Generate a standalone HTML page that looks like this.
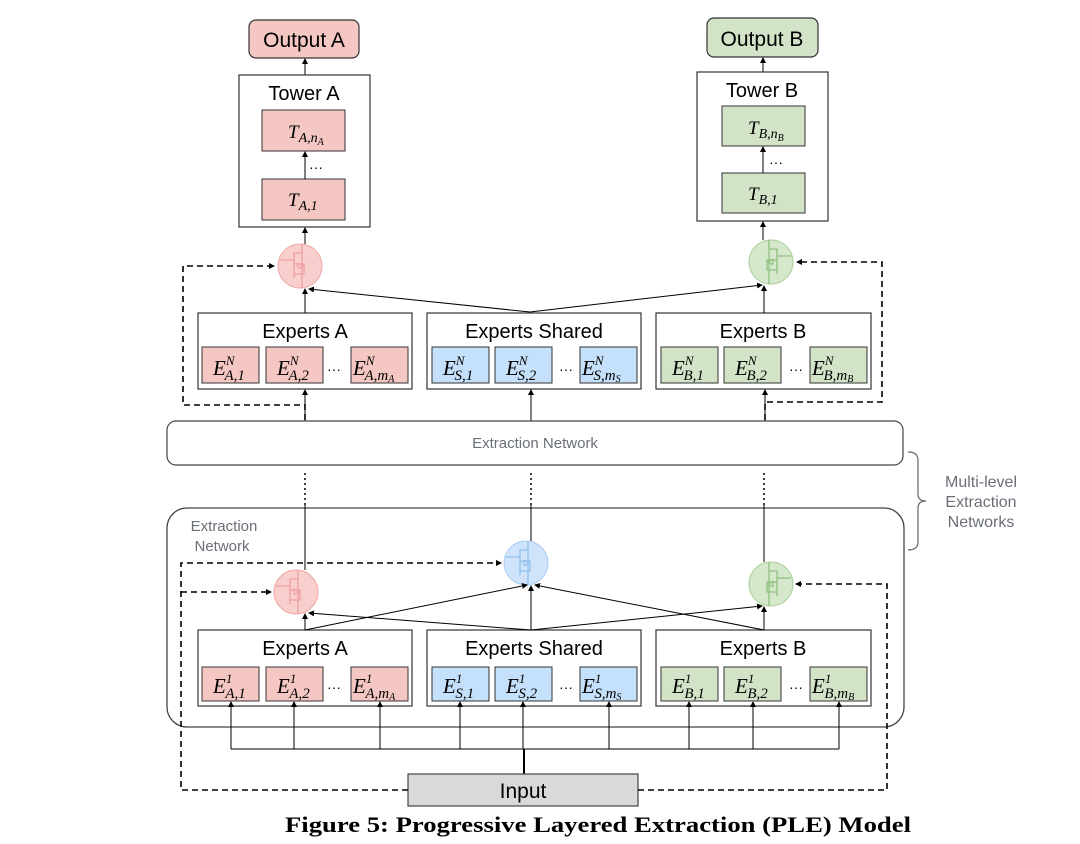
<!DOCTYPE html>
<html><head><meta charset="utf-8"><style>
html,body{margin:0;padding:0;background:#fff;}
svg{display:block;}
.s{font-family:"Liberation Sans",sans-serif;}
.m{font-family:"Liberation Serif",serif;font-style:italic;}
</style></head><body>
<svg width="1080" height="844" viewBox="0 0 1080 844" xmlns="http://www.w3.org/2000/svg">
<defs>
<marker id="ar" markerWidth="6" markerHeight="6" refX="5" refY="3" orient="auto" markerUnits="userSpaceOnUse"><path d="M0,0 L6,3 L0,6 z" fill="#000"/></marker>
<g id="gi" fill="none" stroke-width="1.3">
<path d="M2,-22 V-13 H-6 V12 M2,-13 V22 M-20,-6 H-6 M-6,-2 H4 V8 H-6 M-2,-2 L-2,2 M-2,-3 L3,0 L-2,3"/>
</g>
</defs>
<rect x="249" y="20" width="110" height="38" rx="7" fill="#f4c7c3" stroke="#333" stroke-width="1.2"/>
<text x="304" y="47" class="s" font-size="21" text-anchor="middle">Output A</text>
<rect x="707" y="18" width="111" height="39" rx="7" fill="#d3e3c8" stroke="#333" stroke-width="1.2"/>
<text x="762" y="46" class="s" font-size="21" text-anchor="middle">Output B</text>
<g stroke="#000" stroke-width="1" marker-end="url(#ar)">
<line x1="305" y1="75" x2="305" y2="59"/>
<line x1="763" y1="72" x2="763" y2="58"/>
</g>
<rect x="239" y="75" width="131" height="152" fill="#fff" stroke="#333" stroke-width="1.2"/>
<text x="304" y="100" class="s" font-size="20" text-anchor="middle">Tower A</text>
<rect x="262" y="110" width="83" height="41" fill="#f4c7c3" stroke="#333"/>
<rect x="262" y="179" width="83" height="41" fill="#f4c7c3" stroke="#333"/>
<text x="288" y="138" class="m" font-size="19">T<tspan font-size="14" dy="4">A,n</tspan><tspan font-size="10" dy="3">A</tspan></text>
<text x="288" y="206" class="m" font-size="19">T<tspan font-size="14" dy="4">A,1</tspan></text>
<text x="316" y="172" class="s" font-size="14" text-anchor="middle">···</text>
<rect x="697" y="72" width="131" height="149" fill="#fff" stroke="#333" stroke-width="1.2"/>
<text x="762" y="97" class="s" font-size="20" text-anchor="middle">Tower B</text>
<rect x="722" y="106" width="83" height="40" fill="#d3e3c8" stroke="#333"/>
<rect x="722" y="173" width="83" height="40" fill="#d3e3c8" stroke="#333"/>
<text x="748" y="134" class="m" font-size="19">T<tspan font-size="14" dy="4">B,n</tspan><tspan font-size="10" dy="3">B</tspan></text>
<text x="748" y="200" class="m" font-size="19">T<tspan font-size="14" dy="4">B,1</tspan></text>
<text x="776" y="167" class="s" font-size="14" text-anchor="middle">···</text>
<g stroke="#000" stroke-width="1" marker-end="url(#ar)">
<line x1="305" y1="179" x2="305" y2="152"/>
<line x1="763" y1="173" x2="763" y2="147"/>
<line x1="305" y1="244" x2="305" y2="228"/>
<line x1="763" y1="240" x2="763" y2="222"/>
</g>
<circle cx="300" cy="266" r="22" fill="#f8cfcd" stroke="#f0a8a5"/>
<use href="#gi" x="300" y="266" stroke="#f0a0a0"/>
<circle cx="771" cy="262" r="22" fill="#d5e8cc" stroke="#a8cf98"/>
<use href="#gi" x="771" y="262" stroke="#90c080" transform="translate(1542,0) scale(-1,1)"/>
<g stroke="#333" stroke-width="1.2" fill="#fff">
<rect x="198" y="313" width="214" height="76"/>
<rect x="427" y="313" width="214" height="76"/>
<rect x="656" y="313" width="215" height="76"/>
<rect x="198" y="630" width="214" height="76"/>
<rect x="427" y="630" width="214" height="76"/>
<rect x="656" y="630" width="215" height="76"/>
</g>
<g class="s" font-size="20" text-anchor="middle">
<text x="305" y="338">Experts A</text><text x="534" y="338">Experts Shared</text><text x="763" y="338">Experts B</text>
<text x="305" y="655">Experts A</text><text x="534" y="655">Experts Shared</text><text x="763" y="655">Experts B</text>
</g>
<g stroke="#333" stroke-width="1">
<g fill="#f4c7c3"><rect x="202" y="347" width="57" height="36"/><rect x="266" y="347" width="57" height="36"/><rect x="351" y="347" width="57" height="36"/>
<rect x="202" y="667" width="57" height="34"/><rect x="266" y="667" width="57" height="34"/><rect x="351" y="667" width="57" height="34"/></g>
<g fill="#c5e0fa"><rect x="432" y="347" width="57" height="36"/><rect x="495" y="347" width="57" height="36"/><rect x="580" y="347" width="57" height="36"/>
<rect x="432" y="667" width="57" height="34"/><rect x="495" y="667" width="57" height="34"/><rect x="580" y="667" width="57" height="34"/></g>
<g fill="#d3e3c8"><rect x="661" y="347" width="57" height="36"/><rect x="724" y="347" width="57" height="36"/><rect x="810" y="347" width="57" height="36"/>
<rect x="661" y="667" width="57" height="34"/><rect x="724" y="667" width="57" height="34"/><rect x="810" y="667" width="57" height="34"/></g>
</g>
<g class="m" font-size="21">
<text x="213" y="375">E<tspan font-size="13" dy="-10">N</tspan><tspan font-size="15" dx="-10" dy="15">A,1</tspan></text>
<text x="277" y="375">E<tspan font-size="13" dy="-10">N</tspan><tspan font-size="15" dx="-10" dy="15">A,2</tspan></text>
<text x="353" y="375">E<tspan font-size="13" dy="-10">N</tspan><tspan font-size="15" dx="-10" dy="15">A,m</tspan><tspan font-size="10" dy="2">A</tspan></text>
<text x="443" y="375">E<tspan font-size="13" dy="-10">N</tspan><tspan font-size="15" dx="-10" dy="15">S,1</tspan></text>
<text x="506" y="375">E<tspan font-size="13" dy="-10">N</tspan><tspan font-size="15" dx="-10" dy="15">S,2</tspan></text>
<text x="582" y="375">E<tspan font-size="13" dy="-10">N</tspan><tspan font-size="15" dx="-10" dy="15">S,m</tspan><tspan font-size="10" dy="2">S</tspan></text>
<text x="672" y="375">E<tspan font-size="13" dy="-10">N</tspan><tspan font-size="15" dx="-10" dy="15">B,1</tspan></text>
<text x="735" y="375">E<tspan font-size="13" dy="-10">N</tspan><tspan font-size="15" dx="-10" dy="15">B,2</tspan></text>
<text x="812" y="375">E<tspan font-size="13" dy="-10">N</tspan><tspan font-size="15" dx="-10" dy="15">B,m</tspan><tspan font-size="10" dy="2">B</tspan></text>
<text x="213" y="693">E<tspan font-size="13" dy="-10">1</tspan><tspan font-size="15" dx="-7" dy="15">A,1</tspan></text>
<text x="277" y="693">E<tspan font-size="13" dy="-10">1</tspan><tspan font-size="15" dx="-7" dy="15">A,2</tspan></text>
<text x="353" y="693">E<tspan font-size="13" dy="-10">1</tspan><tspan font-size="15" dx="-7" dy="15">A,m</tspan><tspan font-size="10" dy="2">A</tspan></text>
<text x="443" y="693">E<tspan font-size="13" dy="-10">1</tspan><tspan font-size="15" dx="-7" dy="15">S,1</tspan></text>
<text x="506" y="693">E<tspan font-size="13" dy="-10">1</tspan><tspan font-size="15" dx="-7" dy="15">S,2</tspan></text>
<text x="582" y="693">E<tspan font-size="13" dy="-10">1</tspan><tspan font-size="15" dx="-7" dy="15">S,m</tspan><tspan font-size="10" dy="2">S</tspan></text>
<text x="672" y="693">E<tspan font-size="13" dy="-10">1</tspan><tspan font-size="15" dx="-7" dy="15">B,1</tspan></text>
<text x="735" y="693">E<tspan font-size="13" dy="-10">1</tspan><tspan font-size="15" dx="-7" dy="15">B,2</tspan></text>
<text x="812" y="693">E<tspan font-size="13" dy="-10">1</tspan><tspan font-size="15" dx="-7" dy="15">B,m</tspan><tspan font-size="10" dy="2">B</tspan></text>
</g>
<g class="s" font-size="14" text-anchor="middle">
<text x="334" y="374">···</text><text x="566" y="374">···</text><text x="796" y="374">···</text>
<text x="334" y="692">···</text><text x="566" y="692">···</text><text x="796" y="692">···</text>
</g>
<g stroke="#000" stroke-width="1" fill="none" marker-end="url(#ar)">
<line x1="305" y1="313" x2="305" y2="289"/>
<line x1="530" y1="312" x2="309" y2="289"/>
<line x1="530" y1="312" x2="762" y2="285"/>
<line x1="764" y1="313" x2="764" y2="286"/>
<line x1="531" y1="421" x2="531" y2="390"/>
<line x1="305" y1="421" x2="305" y2="390"/>
<line x1="765" y1="421" x2="765" y2="390"/>
</g>
<rect x="167" y="421" width="736" height="44" rx="9" fill="#fff" stroke="#444" stroke-width="1.2"/>
<text x="535" y="448" class="s" font-size="15" fill="#6a6f78" text-anchor="middle">Extraction Network</text>
<rect x="167" y="508" width="737" height="219" rx="20" fill="none" stroke="#444" stroke-width="1.3"/>
<text x="224" y="531" class="s" font-size="15" fill="#6a6f78" text-anchor="middle">Extraction</text>
<text x="222" y="551" class="s" font-size="15" fill="#6a6f78" text-anchor="middle">Network</text>
<g stroke="#000" stroke-width="1" fill="none">
<line x1="305" y1="570" x2="305" y2="505"/><line x1="531" y1="542" x2="531" y2="505"/><line x1="764" y1="562" x2="764" y2="505"/>
<g stroke-dasharray="2,3" stroke-width="1.5"><line x1="305" y1="505" x2="305" y2="470"/><line x1="531" y1="505" x2="531" y2="470"/><line x1="764" y1="505" x2="764" y2="470"/></g>
</g>
<circle cx="296" cy="592" r="22" fill="#f8cfcd" stroke="#f0a8a5"/>
<use href="#gi" x="296" y="592" stroke="#f0a0a0"/>
<circle cx="526" cy="563" r="22" fill="#cfe3fa" stroke="#a9cdf3"/>
<use href="#gi" x="526" y="563" stroke="#90bfee"/>
<circle cx="771" cy="584" r="22" fill="#d5e8cc" stroke="#a8cf98"/>
<use href="#gi" x="771" y="584" stroke="#90c080" transform="translate(1542,0) scale(-1,1)"/>
<g stroke="#000" stroke-width="1" fill="none" marker-end="url(#ar)">
<line x1="305" y1="630" x2="305" y2="614"/>
<line x1="305" y1="630" x2="527" y2="585"/>
<line x1="531" y1="630" x2="309" y2="613"/>
<line x1="531" y1="630" x2="531" y2="586"/>
<line x1="531" y1="630" x2="762" y2="606"/>
<line x1="764" y1="630" x2="535" y2="585"/>
<line x1="764" y1="630" x2="764" y2="607"/>
</g>
<g stroke="#000" stroke-width="1" fill="none">
<line x1="231" y1="749" x2="839" y2="749"/>
<line x1="524" y1="774" x2="524" y2="749" stroke-width="2"/>
</g>
<g stroke="#000" stroke-width="1" marker-end="url(#ar)">
<line x1="231" y1="749" x2="231" y2="702"/><line x1="294" y1="749" x2="294" y2="702"/><line x1="380" y1="749" x2="380" y2="702"/>
<line x1="460" y1="749" x2="460" y2="702"/><line x1="523" y1="749" x2="523" y2="702"/><line x1="609" y1="749" x2="609" y2="702"/>
<line x1="689" y1="749" x2="689" y2="702"/><line x1="753" y1="749" x2="753" y2="702"/><line x1="839" y1="749" x2="839" y2="702"/>
</g>
<rect x="408" y="774" width="230" height="32" fill="#d9d9d9" stroke="#444" stroke-width="1.2"/>
<text x="523" y="798" class="s" font-size="21" text-anchor="middle">Input</text>
<g stroke="#000" stroke-width="1.6" fill="none" stroke-dasharray="6,4">
<polyline points="305,420 305,405 183,405 183,266 274,266" marker-end="url(#ar)"/>
<polyline points="765,420 765,402 882,402 882,262 797,262" marker-end="url(#ar)"/>
<polyline points="408,790 181,790 181,563 501,563" marker-end="url(#ar)"/>
<polyline points="181,592 271,592" marker-end="url(#ar)"/>
<polyline points="638,790 887,790 887,584 796,584" marker-end="url(#ar)"/>
</g>
<path d="M908,452 Q918,452 918,460 V494 Q918,501 926,501 Q918,501 918,508 V542 Q918,550 908,550" fill="none" stroke="#666" stroke-width="1.2"/>
<g class="s" font-size="16" fill="#6a6f78" text-anchor="middle">
<text x="981" y="487">Multi-level</text><text x="981" y="507">Extraction</text><text x="981" y="527">Networks</text>
</g>
<text x="598" y="832" font-family="'Liberation Serif',serif" font-weight="bold" font-size="22" text-anchor="middle" textLength="626" lengthAdjust="spacingAndGlyphs">Figure 5: Progressive Layered Extraction (PLE) Model</text>
</svg>
</body></html>
